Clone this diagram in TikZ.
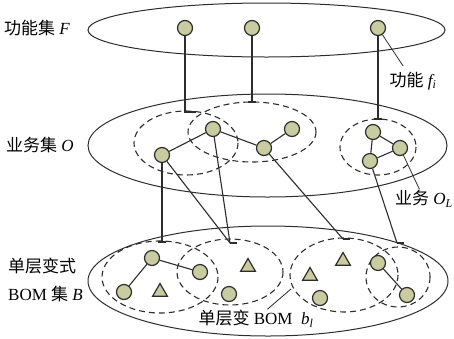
\documentclass[tikz,border=0pt]{standalone}
\usepackage{fontspec}
\setmainfont{Liberation Serif}
\newfontfamily\cjk{Noto Sans CJK SC}
\usetikzlibrary{shapes.geometric, positioning, calc}
\definecolor{cNode}{RGB}{200,204,160}
\definecolor{cLine}{RGB}{45,45,45}
\tikzset{
    setring/.style={draw=cLine, line width=1pt},
    group/.style  ={draw=cLine, line width=1.1pt, dash pattern=on 6pt off 4pt},
    elem/.style   ={circle, draw=cLine, line width=1.2pt, fill=cNode, minimum size=15pt, inner sep=0pt},
    part/.style   ={regular polygon, regular polygon sides=3, draw=cLine, line width=1.2pt, fill=cNode, minimum size=17pt, inner sep=0pt},
    link/.style   ={draw=cLine, line width=1.1pt},
    lead/.style   ={draw=cLine, line width=0.8pt},
    lbl/.style    ={font=\fontsize{17}{20}\selectfont, inner sep=1pt},
}

\begin{document}
\begin{tikzpicture}[x=1pt, y=-1pt]
        \useasboundingbox (0,0) rectangle (454,338);

        \draw[setring] (266.5,30) ellipse [x radius=178.5, y radius=27];
        \draw[setring] (267.5,145.5) ellipse [x radius=179.5, y radius=51.5];
        \draw[setring] (268,281) ellipse [x radius=180, y radius=55];

        \draw[group] (186,143) ellipse [x radius=52, y radius=32];
        \draw[group] (252,132) ellipse [x radius=64, y radius=30];
        \draw[group] (378,147) ellipse [x radius=38, y radius=28];
        \draw[group] (160,277) ellipse [x radius=58, y radius=36];
        \draw[group] (230,272) ellipse [x radius=53, y radius=33];
        \draw[group] (344,275) ellipse [x radius=54, y radius=37];
        \draw[group] (398,277) ellipse [x radius=32, y radius=30];

        \node[elem] (f1) at (185,28) {};
        \node[elem] (f2) at (252,28) {};
        \node[elem] (f3) at (378,28) {};

        \node[elem] (o1) at (162,155) {};
        \node[elem] (o2) at (213,129) {};
        \node[elem] (o3) at (264,148) {};
        \node[elem] (o4) at (292,129) {};
        \node[elem] (o5) at (373,132) {};
        \node[elem] (o6) at (400,148) {};
        \node[elem] (o7) at (370,161) {};

        \node[elem] (b1) at (152,258) {};
        \node[elem] (b2) at (200,272) {};
        \node[elem] (b3) at (124,292) {};
        \node[elem] (b4) at (229,294) {};
        \node[elem] (b5) at (320,298) {};
        \node[elem] (b6) at (378,263) {};
        \node[elem] (b7) at (407,295) {};
        \node[part] (t1) at (160,292) {};
        \node[part] (t2) at (248,267) {};
        \node[part] (t3) at (310,276) {};
        \node[part] (t4) at (343,261) {};

        \node[lbl, anchor=west] (lblF) at (3,28) {{\cjk 功能集} \textit{F}};
        \node[lbl] (lblfi) at (413,81) {{\cjk 功能} \textit{f\textsubscript{i}}};
        \node[lbl, anchor=west] (lblO) at (5,145) {{\cjk 业务集} \textit{O}};
        \node[lbl] (lbloL) at (424,199) {{\cjk 业务} \textit{O\textsubscript{L}}};
        \node[lbl, anchor=west] (lblB1) at (7,266) {{\cjk 单层变式}};
        \node[lbl, anchor=west] (lblB2) at (7,294) {BOM {\cjk 集} \textit{B}};
        \node[lbl] (lblbl) at (256,319) {{\cjk 单层变} BOM\enspace\textit{b\textsubscript{l}}};

        \coordinate (fa) at (196,112);
        \coordinate (fb) at (252,102);
        \coordinate (fc) at (378,119);
        \coordinate (ob1) at (162,242);
        \coordinate (ob2) at (230,243);
        \coordinate (ob3) at (343,239);
        \coordinate (ob4) at (397,243);
        \coordinate (blend) at (291,289);

        \draw[link] (o1) -- (o2) -- (o3) -- (o4);
        \draw[link] (o5) -- (o6) -- (o7) -- (o5);
        \draw[link] (b3) -- (b1) -- (b2);
        \draw[link] (b6) -- (b7);

        \draw[link] (f1) |- (fa);
        \draw[link] (f2) -- (fb);
        \draw[link] (f3) -- (fc);
        \draw[link] (o1) -- (ob1);
        \draw[link] (o1) -- (ob2);
        \draw[link] (o2) -- (ob2);
        \draw[link] (o3) -- (ob3);
        \draw[link] (o7) -- (ob4);
        \foreach \c in {fb, fc, ob1}
            \draw[link] ([xshift=-4pt]\c) -- ([xshift=4pt]\c);
        \foreach \c in {ob2, ob3, ob4}
            \draw[link] (\c) -- ([xshift=7pt]\c);

        \draw[lead, shorten <=6pt] (lblfi) -- (f3);
        \draw[lead] (lbloL) -- (o6);
        \draw[lead] (lblbl) -- (blend);
    \end{tikzpicture}
\end{document}
